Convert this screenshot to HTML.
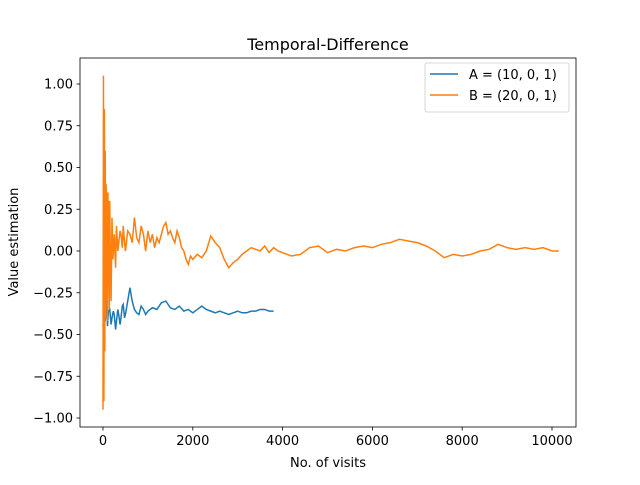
<!DOCTYPE html>
<html><head><meta charset="utf-8">
<style>body{margin:0;background:#fff}svg{font-family:"DejaVu Sans","Liberation Sans",sans-serif}</style>
</head><body>
<svg id="chart" width="640" height="480"></svg>
<script>
const xTicks=[0,2000,4000,6000,8000,10000];
const yTicks=[1.00,0.75,0.50,0.25,0.00,-0.25,-0.50,-0.75,-1.00];
const seriesAX=[0,30,50,80,100,120,150,180,200,230,250,280,300,330,350,380,400,430,450,480,500,550,600,650,700,750,800,850,900,950,1000,1100,1200,1300,1400,1500,1600,1700,1800,1900,2000,2100,2200,2300,2400,2500,2600,2700,2800,2900,3000,3100,3200,3300,3400,3500,3600,3700,3800];
const seriesAY=[-0.45,-0.38,-0.42,-0.3,-0.45,-0.36,-0.35,-0.44,-0.4,-0.36,-0.38,-0.47,-0.42,-0.35,-0.38,-0.44,-0.4,-0.33,-0.32,-0.4,-0.38,-0.3,-0.22,-0.3,-0.35,-0.37,-0.38,-0.33,-0.35,-0.38,-0.36,-0.34,-0.35,-0.31,-0.3,-0.34,-0.35,-0.33,-0.36,-0.35,-0.37,-0.35,-0.33,-0.35,-0.36,-0.37,-0.36,-0.37,-0.38,-0.37,-0.36,-0.37,-0.37,-0.36,-0.36,-0.35,-0.35,-0.36,-0.36];
const seriesBX=[0,10,20,30,40,50,60,70,80,90,100,110,120,130,140,150,165,180,200,220,250,280,300,330,350,380,400,430,450,480,500,550,600,650,700,750,800,850,900,950,1000,1050,1100,1150,1200,1250,1300,1350,1400,1450,1500,1550,1600,1650,1700,1750,1800,1850,1900,1950,2000,2100,2200,2300,2400,2500,2600,2700,2800,2900,3000,3100,3200,3300,3400,3500,3600,3700,3800,3900,4000,4200,4400,4600,4800,5000,5200,5400,5600,5800,6000,6200,6400,6600,6800,7000,7200,7400,7600,7800,8000,8200,8400,8600,8800,9000,9200,9400,9600,9800,10000,10150];
const seriesBY=[-0.95,1.05,-0.9,0.85,-0.6,0.6,-0.4,0.4,-0.3,0.35,-0.42,0.35,-0.2,0.3,-0.35,0.3,-0.1,-0.3,0.2,-0.05,0.1,-0.1,0.15,0.0,0.05,0.12,0.1,0.02,0.15,0.05,0.0,0.12,0.1,0.05,0.2,0.08,0.05,0.15,0.1,0.0,0.12,0.05,0.1,0.02,0.08,0.05,0.1,0.15,0.17,0.1,0.12,0.08,0.05,0.12,0.08,0.02,0.0,-0.05,-0.08,-0.03,-0.05,-0.02,-0.04,0.0,0.09,0.05,0.02,-0.05,-0.1,-0.07,-0.05,-0.02,0.0,0.02,0.01,0.0,0.03,-0.01,0.02,0.0,-0.01,-0.03,-0.02,0.02,0.03,-0.01,0.01,0.0,0.02,0.03,0.02,0.04,0.05,0.07,0.06,0.05,0.03,0.0,-0.04,-0.02,-0.03,-0.02,0.0,0.01,0.04,0.02,0.01,0.02,0.01,0.02,0.0,0.0];

const svg=document.getElementById('chart');const NS='http://www.w3.org/2000/svg';
const L=80,R=576,T=58,B=427;
const sx=v=>103+v*(552-103)/10000;
const sy=v=>251-v*167;
function mk(t,a,p){const e=document.createElementNS(NS,t);for(const k in a)e.setAttribute(k,a[k]);(p||svg).appendChild(e);return e;}
function line(xs,ys,color,name){const e=mk('polyline',{points:xs.map((x,i)=>sx(x)+','+sy(ys[i])).join(' '),fill:'none',stroke:color,'stroke-width':1.5});

}
line(seriesAX,seriesAY,'#1f77b4','series-a-line');
line(seriesBX,seriesBY,'#ff7f0e','series-b-line');
const fr=mk('rect',{x:L,y:T,width:R-L,height:B-T,fill:'none',stroke:'#000','stroke-width':0.8});


xTicks.forEach(v=>{const x=sx(v);mk('line',{x1:x,x2:x,y1:B,y2:B+3.5,stroke:'#000','stroke-width':0.8});
const t=mk('text',{x:x,y:B+18,'text-anchor':'middle','font-size':13});t.textContent=v;

});
yTicks.forEach(v=>{const y=sy(v);mk('line',{x1:L-3.5,x2:L,y1:y,y2:y,stroke:'#000','stroke-width':0.8});
const t=mk('text',{x:L-7,y:y+4.5,'text-anchor':'end','font-size':13});t.textContent=(v<0?'\u2212':'')+Math.abs(v).toFixed(2);

});
let t=mk('text',{x:328,y:50,'text-anchor':'middle','font-size':16});t.textContent='Temporal-Difference';


t=mk('text',{x:328,y:467,'text-anchor':'middle','font-size':13});t.textContent='No. of visits';


t=mk('text',{x:18,y:242,'text-anchor':'middle','font-size':13,transform:'rotate(-90 18 242)'});t.textContent='Value estimation';


const lg=mk('g',{});


mk('rect',{x:425,y:63,width:144,height:49,rx:2,fill:'#fff',stroke:'#ccc','stroke-width':0.8},lg);
[['#1f77b4','A = (10, 0, 1)',78],['#ff7f0e','B = (20, 0, 1)',99]].forEach(([c,s,y])=>{
mk('line',{x1:430,x2:458,y1:y-4,y2:y-4,stroke:c,'stroke-width':1.5},lg);
const e=mk('text',{x:469,y:y+1,'font-size':13},lg);e.textContent=s;

});
</script>
</body></html>
